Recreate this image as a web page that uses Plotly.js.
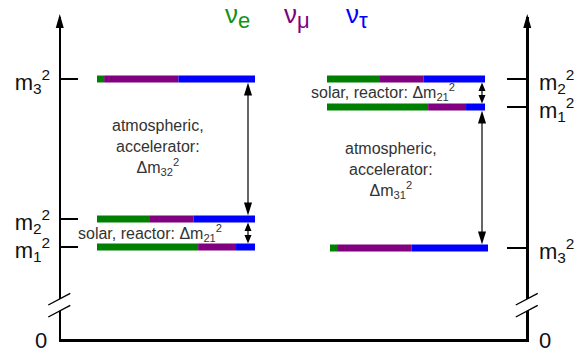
<!DOCTYPE html>
<html><head><meta charset="utf-8">
<script src="https://cdn.plot.ly/plotly-3.0.1.min.js"></script>
<style>html,body{margin:0;padding:0;background:#fff}</style>
</head><body><div id="chart" style="width:585px;height:353px"></div>
<script>
// ---------- data ----------
const flavorLabels = ['ν<sub><span style="font-size:22px">e</span></sub>',
                      'ν<sub><span style="font-size:22px">μ</span></sub>',
                      'ν<sub><span style="font-size:22px">τ</span></sub>'];
const stateLabels = ['m<sub>1</sub><sup>2</sup>', 'm<sub>2</sub><sup>2</sup>', 'm<sub>3</sub><sup>2</sup>'];
// flavour content of mass states m1, m2, m3
const fracE   = [0.64, 0.33, 0.045];
const fracMu  = [0.24, 0.28, 0.47];
const fracTau = [0.12, 0.39, 0.485];
// squared-mass levels (arbitrary units, 0 = bottom axis)
const normalLevels   = [93, 121, 261];   // m1, m2, m3
const invertedLevels = [233, 261, 92];   // m1, m2, m3
const zeroLabel = '0';
const solarText = 'solar, reactor: Δm<sub>21</sub><sup>2</sup>';
const atmNormalText = 'atmospheric,<br>accelerator:<br>Δm<sub>32</sub><sup>2</sup>';
const atmInvertedText = 'atmospheric,<br>accelerator:<br>Δm<sub>31</sub><sup>2</sup>';

// ---------- layout constants ----------
const W = 585, H = 353, L = 61, R = 59, T = 17, B = 14;
const FONT = '"Liberation Sans", Arial, Helvetica, sans-serif';
const barColors = ['#008000', '#800080', '#0000ff'];
const legendColors = ['#109410', '#800080', '#0000ff'];
const barLen = 158, barThick = 7;
const normalStart = [97, 97, 97];
const invertedStart = [327, 327, 330];
const arrowXNormal = 248, arrowXInverted = 482;
const toY = py => 340 - py;            // pixel row -> data units
const pw = W - L - R, ph = H - T - B;
const PX = px => (px - L) / pw;
const PY = py => (H - B - py) / ph;
const P = (px, py) => PX(px).toFixed(5) + ',' + PY(py).toFixed(5);

// ---------- bars ----------
const fracs = [fracE, fracMu, fracTau];
const ys = normalLevels.concat(invertedLevels);
const starts = normalStart.concat(invertedStart);
const traces = [];
fracs.forEach((fr, f) => {
  const xs = [], bases = [];
  for (let k = 0; k < 6; k++) {
    const s = k % 3;
    let cum = 0;
    for (let g = 0; g < f; g++) cum += fracs[g][s];
    xs.push(fr[s] * barLen);
    bases.push(starts[k] + cum * barLen);
  }
  traces.push({type: 'bar', orientation: 'h', y: ys, x: xs, base: bases, width: barThick,
    marker: {color: barColors[f], line: {width: 0}}, hoverinfo: 'skip', showlegend: false});
});
traces.push({type: 'scatter', x: [null], y: [null], yaxis: 'y2', showlegend: false, hoverinfo: 'skip'});

// ---------- arrows between levels ----------
const shapes = [];
const half = barThick / 2;
function head(x, yTip, dir, len, hw) {
  shapes.push({type: 'path', xref: 'x', yref: 'y', layer: 'above',
    path: `M${x},${yTip} L${x - hw},${yTip - dir * len} L${x + hw},${yTip - dir * len} Z`,
    fillcolor: '#000', line: {width: 0}});
}
function dblArrow(x, yTop, yBot, len, hw) {
  shapes.push({type: 'line', xref: 'x', yref: 'y', layer: 'above', x0: x, x1: x,
    y0: yTop - len * 0.5, y1: yBot + len * 0.5, line: {color: '#000', width: 1.2}});
  head(x, yTop, 1, len, hw);
  head(x, yBot, -1, len, hw);
}
// normal ordering
dblArrow(arrowXNormal, normalLevels[2] - half, normalLevels[1] + half, 13, 4);
dblArrow(arrowXNormal, normalLevels[1] - half, normalLevels[0] + half, 8.5, 3.5);
// inverted ordering
dblArrow(arrowXInverted, invertedLevels[1] - half, invertedLevels[0] + half, 8.5, 3.5);
dblArrow(arrowXInverted, invertedLevels[0] - half, invertedLevels[2] + half, 13, 4);

// ---------- axis decorations (arrow tips, breaks) ----------
[59.75, 527.25].forEach(cx => {
  shapes.push({type: 'path', xref: 'paper', yref: 'paper', layer: 'above',
    path: `M${P(cx, 14)} L${P(cx - 4, 28)} L${P(cx + 4, 28)} Z`, fillcolor: '#000', line: {width: 0}});
  const x0 = cx - 11.5, x1 = cx + 10.5;
  const up = x => 305 - (x - x0) * (11 / 21);
  const lo = x => 317 - (x - x0) * (11 / 21);
  shapes.push({type: 'path', xref: 'paper', yref: 'paper', layer: 'above',
    path: `M${P(cx - 3, up(cx - 3))} L${P(cx + 3, up(cx + 3))} L${P(cx + 3, lo(cx + 3))} L${P(cx - 3, lo(cx - 3))} Z`,
    fillcolor: '#fff', line: {width: 0}});
  shapes.push({type: 'line', xref: 'paper', yref: 'paper', layer: 'above',
    x0: PX(x0), y0: PY(up(x0)), x1: PX(x1), y1: PY(up(x1)), line: {color: '#000', width: 1.4}});
  shapes.push({type: 'line', xref: 'paper', yref: 'paper', layer: 'above',
    x0: PX(x0), y0: PY(lo(x0)), x1: PX(x1), y1: PY(lo(x1)), line: {color: '#000', width: 1.4}});
});

// ---------- annotations ----------
const txtFont = {family: FONT, size: 16, color: '#333'};
const zeroFont = {family: FONT, size: 22, color: '#111'};
const annotations = [
  {x: 158, y: toY(147), text: atmNormalText, xref: 'x', yref: 'y', showarrow: false, font: txtFont, align: 'center'},
  {x: 391, y: toY(170), text: atmInvertedText, xref: 'x', yref: 'y', showarrow: false, font: txtFont, align: 'center'},
  {x: 150, y: toY(233), text: solarText, xref: 'x', yref: 'y', showarrow: false, font: txtFont},
  {x: 383, y: toY(92), text: solarText, xref: 'x', yref: 'y', showarrow: false, font: txtFont},
  {x: PX(41), y: PY(340.5), text: zeroLabel, xref: 'paper', yref: 'paper', xanchor: 'center', yanchor: 'middle',
    showarrow: false, font: zeroFont},
  {x: PX(545), y: PY(340.5), text: zeroLabel, xref: 'paper', yref: 'paper', xanchor: 'center', yanchor: 'middle',
    showarrow: false, font: zeroFont}
];
const legendX = [237, 297, 357];
flavorLabels.forEach((t, i) => annotations.push({x: PX(legendX[i]), y: PY(15.5), text: t, xref: 'paper', yref: 'paper',
  xanchor: 'center', yanchor: 'middle', showarrow: false, font: {family: FONT, size: 26, color: legendColors[i]}}));

const axisCommon = {range: [toY(339), toY(T)], showline: true, linewidth: 2.5, linecolor: '#000',
  ticks: 'inside', tickwidth: 1.3, tickcolor: '#000', showgrid: false, zeroline: false,
  tickfont: {family: FONT, size: 22, color: '#111'}, ticklabelshift: 3, fixedrange: true};

const layout = {
  width: W, height: H, margin: {l: L, r: R, t: T, b: B, pad: 0},
  paper_bgcolor: '#fff', plot_bgcolor: '#fff', showlegend: false, barmode: 'overlay',
  hovermode: false, font: {family: FONT},
  xaxis: {range: [L, W - R], showline: true, linewidth: 2.5, linecolor: '#000', showticklabels: false,
    ticks: '', showgrid: false, zeroline: false, fixedrange: true},
  yaxis: Object.assign({}, axisCommon, {tickvals: normalLevels, ticktext: stateLabels, ticklen: 17, ticklabelstandoff: 4}),
  yaxis2: Object.assign({}, axisCommon, {overlaying: 'y', side: 'right', tickvals: invertedLevels,
    ticktext: stateLabels, ticklen: 19, ticklabelstandoff: 6}),
  shapes: shapes, annotations: annotations
};
Plotly.newPlot('chart', traces, layout, {staticPlot: true, displayModeBar: false});
</script></body></html>
